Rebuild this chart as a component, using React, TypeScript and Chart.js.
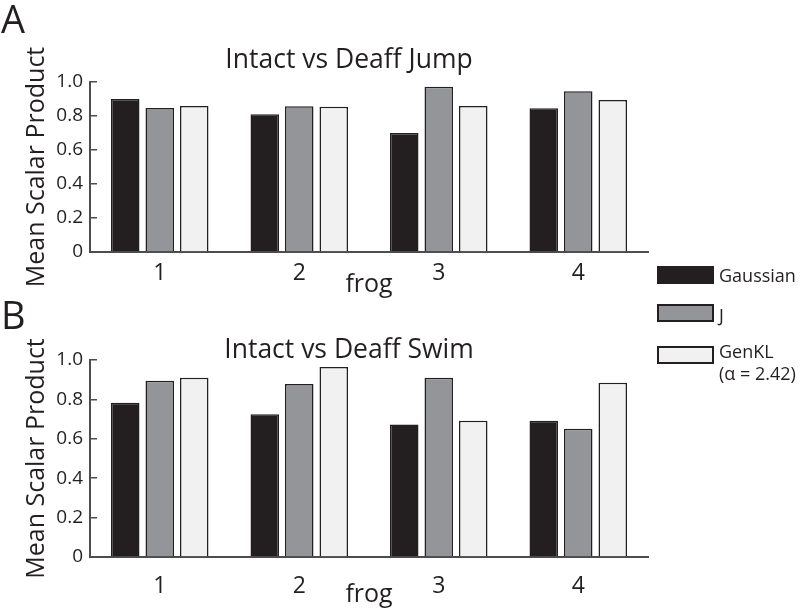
import React, { useEffect, useRef } from 'react';
import { Chart, registerables } from 'chart.js';

Chart.register(...registerables);

// ---- data ----
const frogs = ['1', '2', '3', '4'];
const seriesNames = ['Gaussian', 'J', 'GenKL'];
const jumpGaussian = [0.90, 0.81, 0.70, 0.845];
const jumpJ = [0.847, 0.857, 0.972, 0.945];
const jumpGenKL = [0.859, 0.855, 0.859, 0.894];
const swimGaussian = [0.783, 0.724, 0.673, 0.691];
const swimJ = [0.895, 0.878, 0.91, 0.651];
const swimGenKL = [0.91, 0.964, 0.691, 0.885];
const yTickValues = [0, 0.2, 0.4, 0.6, 0.8, 1.0];

const FONT = "'Open Sans', sans-serif";
const INK = '#231f20';
const AXIS = '#4d4d4f';
const fills = ['#231f20', '#939598', '#f1f1f2'];

const panelTitle = {
  id: 'panelTitle',
  afterDraw(chart: any, _args: any, opts: any) {
    const { ctx } = chart;
    ctx.save();
    ctx.font = `${opts.size}px ${FONT}`;
    ctx.fillStyle = INK;
    ctx.textAlign = 'center';
    ctx.textBaseline = 'alphabetic';
    ctx.fillText(opts.text, opts.x, opts.y);
    ctx.restore();
  },
};

function makeConfig(p: {
  title: string;
  values: number[][];
  padTop: number;
  xHeight: number;
  titleY: number;
  tickPad: number;
  frogPad: number;
}) {
  return {
    type: 'bar' as const,
    data: {
      labels: frogs,
      datasets: seriesNames.map((name, i) => ({
        label: name,
        data: p.values[i],
        backgroundColor: fills[i],
        borderColor: INK,
        borderWidth: 1.5,
        barPercentage: 0.826,
        categoryPercentage: 0.742,
      })),
    },
    options: {
      responsive: false,
      animation: false as const,
      layout: { padding: { top: p.padTop, right: 152, bottom: 0, left: 0 } },
      plugins: {
        legend: { display: false },
        tooltip: { enabled: false },
        title: { display: false },
        panelTitle: { text: p.title, x: 349, y: p.titleY, size: 26.5 },
      },
      scales: {
        x: {
          type: 'category' as const,
          grid: { display: false },
          border: { display: true, color: AXIS, width: 2 },
          ticks: {
            color: INK,
            font: { family: FONT, size: 23 },
            padding: p.tickPad,
            maxRotation: 0,
          },
          title: {
            display: true,
            text: 'frog',
            color: INK,
            font: { family: FONT, size: 25 },
            padding: { top: 0, bottom: p.frogPad },
          },
          afterFit(scale: any) {
            scale.height = p.xHeight;
          },
        },
        y: {
          min: 0,
          max: 1,
          afterBuildTicks(scale: any) {
            scale.ticks = yTickValues.map((v) => ({ value: v }));
          },
          grid: {
            display: true,
            drawOnChartArea: false,
            drawTicks: true,
            tickLength: -7,
            color: AXIS,
            lineWidth: 1.5,
          },
          border: { display: true, color: AXIS, width: 2 },
          ticks: {
            color: INK,
            font: { family: FONT, size: 19 },
            padding: 14,
            callback: (v: any) => (Number(v) === 0 ? '0' : Number(v).toFixed(1)),
          },
          title: {
            display: true,
            text: 'Mean Scalar Product',
            color: INK,
            font: { family: FONT, size: 25 },
            padding: { top: 22, bottom: 0 },
          },
          afterFit(scale: any) {
            scale.width = 90;
          },
        },
      },
    },
    plugins: [panelTitle],
  };
}

const textStyle: React.CSSProperties = {
  position: 'absolute',
  fontFamily: FONT,
  color: INK,
  whiteSpace: 'nowrap',
};

function Swatch({ top, color }: { top: number; color: string }) {
  return (
    <div
      style={{
        position: 'absolute',
        left: 657,
        top,
        width: 57,
        height: 18,
        background: color,
        border: `2px solid ${INK}`,
        boxSizing: 'border-box',
      }}
    />
  );
}

export default function App() {
  const refA = useRef<HTMLCanvasElement>(null);
  const refB = useRef<HTMLCanvasElement>(null);

  useEffect(() => {
    const a = new Chart(
      refA.current as HTMLCanvasElement,
      makeConfig({
        title: 'Intact vs Deaff Jump',
        values: [jumpGaussian, jumpJ, jumpGenKL],
        padTop: 82,
        xHeight: 48,
        titleY: 68,
        tickPad: 0,
        frogPad: 0,
      }) as any
    );
    const b = new Chart(
      refB.current as HTMLCanvasElement,
      makeConfig({
        title: 'Intact vs Deaff Swim',
        values: [swimGaussian, swimJ, swimGenKL],
        padTop: 60,
        xHeight: 53,
        titleY: 58,
        tickPad: 8,
        frogPad: 0,
      }) as any
    );
    return () => {
      a.destroy();
      b.destroy();
    };
  }, []);

  return (
    <div
      style={{
        position: 'absolute',
        left: 0,
        top: 0,
        width: 800,
        height: 610,
        background: '#ffffff',
        overflow: 'hidden',
      }}
    >
      <canvas ref={refA} width={800} height={300} style={{ position: 'absolute', left: 0, top: 0 }} />
      <canvas ref={refB} width={800} height={310} style={{ position: 'absolute', left: 0, top: 300 }} />
      <div style={{ ...textStyle, left: 1, top: -6, fontSize: 38, lineHeight: '48px' }}>A</div>
      <div style={{ ...textStyle, left: 1, top: 290, fontSize: 38, lineHeight: '48px' }}>B</div>

      <Swatch top={266} color={fills[0]} />
      <Swatch top={304} color={fills[1]} />
      <Swatch top={346} color={fills[2]} />
      <div style={{ ...textStyle, left: 719, top: 265, fontSize: 18, lineHeight: '20px' }}>{seriesNames[0]}</div>
      <div style={{ ...textStyle, left: 719, top: 305, fontSize: 18, lineHeight: '20px' }}>{seriesNames[1]}</div>
      <div style={{ ...textStyle, left: 719, top: 340, fontSize: 18, lineHeight: '22px' }}>
        {seriesNames[2]}
        <br />
        (α = 2.42)
      </div>
    </div>
  );
}
